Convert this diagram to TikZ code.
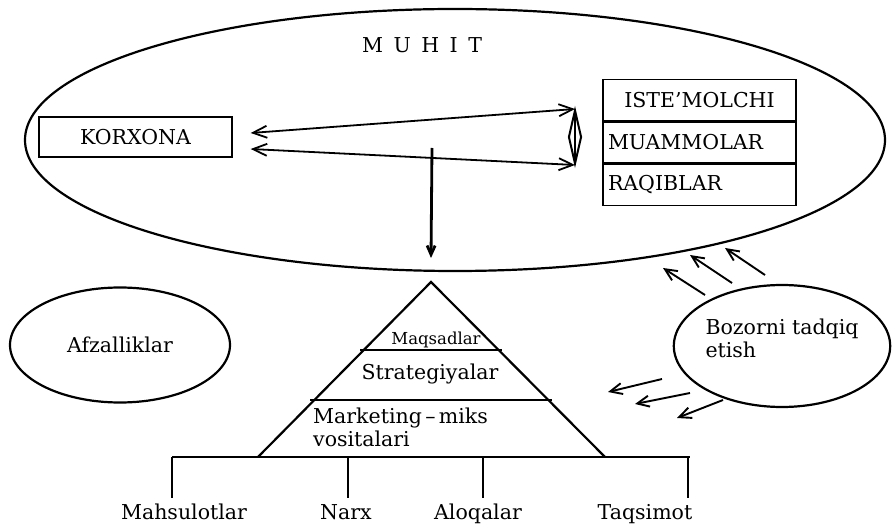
\documentclass[tikz,border=0pt]{standalone}
\usepackage{fontspec}
\setmainfont{DejaVu Serif}
\usetikzlibrary{positioning}
\usetikzlibrary{arrows.meta,shapes.geometric}
\usetikzlibrary{calc}

\tikzset{
  lbl/.style={font=\fontsize{20.5}{23}\selectfont, inner sep=0pt},
  small/.style={font=\fontsize{16.5}{19}\selectfont, inner sep=0pt},
  rowbox/.style={draw, line width=1.4pt, minimum width=193pt, minimum height=41pt,
     text width=183pt, inner xsep=5pt, font=\fontsize{20.5}{23}\selectfont},
  oval/.style={ellipse, draw, line width=2.2pt, inner sep=0pt},
  dbl/.style={line width=1.8pt, {Straight Barb[length=14pt,width=12pt]}-{Straight Barb[length=14pt,width=12pt]}},
  sarr/.style={line width=1.9pt, -{Straight Barb[length=12pt,width=11pt]}},
  tri/.style={line width=2.2pt},
}

\begin{document}
\begin{tikzpicture}[x=1pt, y=-1pt]
  \useasboundingbox (0,0) rectangle (892,526);

 %environment
    \node[oval, minimum width=860pt, minimum height=262pt] (env) at (455,140) {};
    \node[lbl] (muhit) at (422,45) {M\hspace{4pt} U\hspace{4pt} H\hspace{4pt} I\hspace{4pt} T};

    \node[draw, line width=1.4pt, minimum width=193pt, minimum height=40pt, lbl] (kor) at (135.5,137) {KORXONA};

    \node[rowbox, align=center] (iste) at (699.5,100) {ISTE'MOLCHI};
    \node[rowbox, align=left, below=0pt of iste] (muam) {MUAMMOLAR};
    \node[rowbox, align=left, below=0pt of muam] (raq) {RAQIBLAR};

    \node[diamond, draw, line width=2pt, fill=white, minimum width=13pt, minimum height=54pt, inner sep=0pt] (lnk) at (575,137) {};
    \draw[line width=1.2pt] (lnk.north) -- (lnk.south);

 %arrows korxona <-> muhit
    \draw[dbl] ($(kor.east)+(18,-4)$) -- (lnk.north);
    \draw[dbl] ($(kor.east)+(18,12)$) -- (lnk.south);

    \coordinate (dtop) at (432,148);
    \coordinate (apex) at (431,282);
    \draw[line width=2.8pt, -{Straight Barb[length=9pt,width=8pt]}] (dtop) -- ($(apex)+(0,-24)$);

 %pyramid
    \def\by{457};
    \coordinate (bl) at (258,\by);
    \coordinate (br) at (605,\by);
    \draw[tri] (bl) -- (apex) -- (br);
    \draw[tri] (360,350) -- (502,350);
    \draw[tri] (310,400) -- (552,400);
    \draw[tri] (172,\by) -- (690,\by);

    \node[small] (maq) at (436,340) {Maqsadlar};
    \node[lbl] (str) at (430,374) {Strategiyalar};
    \node[lbl, anchor=west, align=left] (mix) at (313,427) {Marketing\,–\,miks\\vositalari};

    \foreach \tx/\lx/\txt/\name in {172/184/Mahsulotlar/mah, 348/346/Narx/nar, 483/478/Aloqalar/alo, 688/645/Taqsimot/taq} {
         \draw[tri] (\tx,\by) -- (\tx,498);
         \node[lbl, anchor=base] (\name) at (\lx,519) {\txt};
    }

 %side ovals
    \node[oval, minimum width=220pt, minimum height=115pt, lbl] (afz) at (120,345) {Afzalliklar};
    \node[oval, minimum width=215pt, minimum height=122pt, lbl, align=left, text depth=16pt] (boz) at (782,346) {Bozorni tadqiq\\etish};

 %arrows from bozorni
    \foreach \n/\sx/\sy/\ex/\ey in {1/705/295/663/268, 2/732/283/690/255, 3/765/275/725/248,
                                   4/662/379/608/392, 5/690/393/635/404, 6/723/400/677/418} {
         \coordinate (s\n) at (\sx,\sy);
         \coordinate (e\n) at (\ex,\ey);
         \draw[sarr] (s\n) -- (e\n);
    }

\end{tikzpicture}
\end{document}
